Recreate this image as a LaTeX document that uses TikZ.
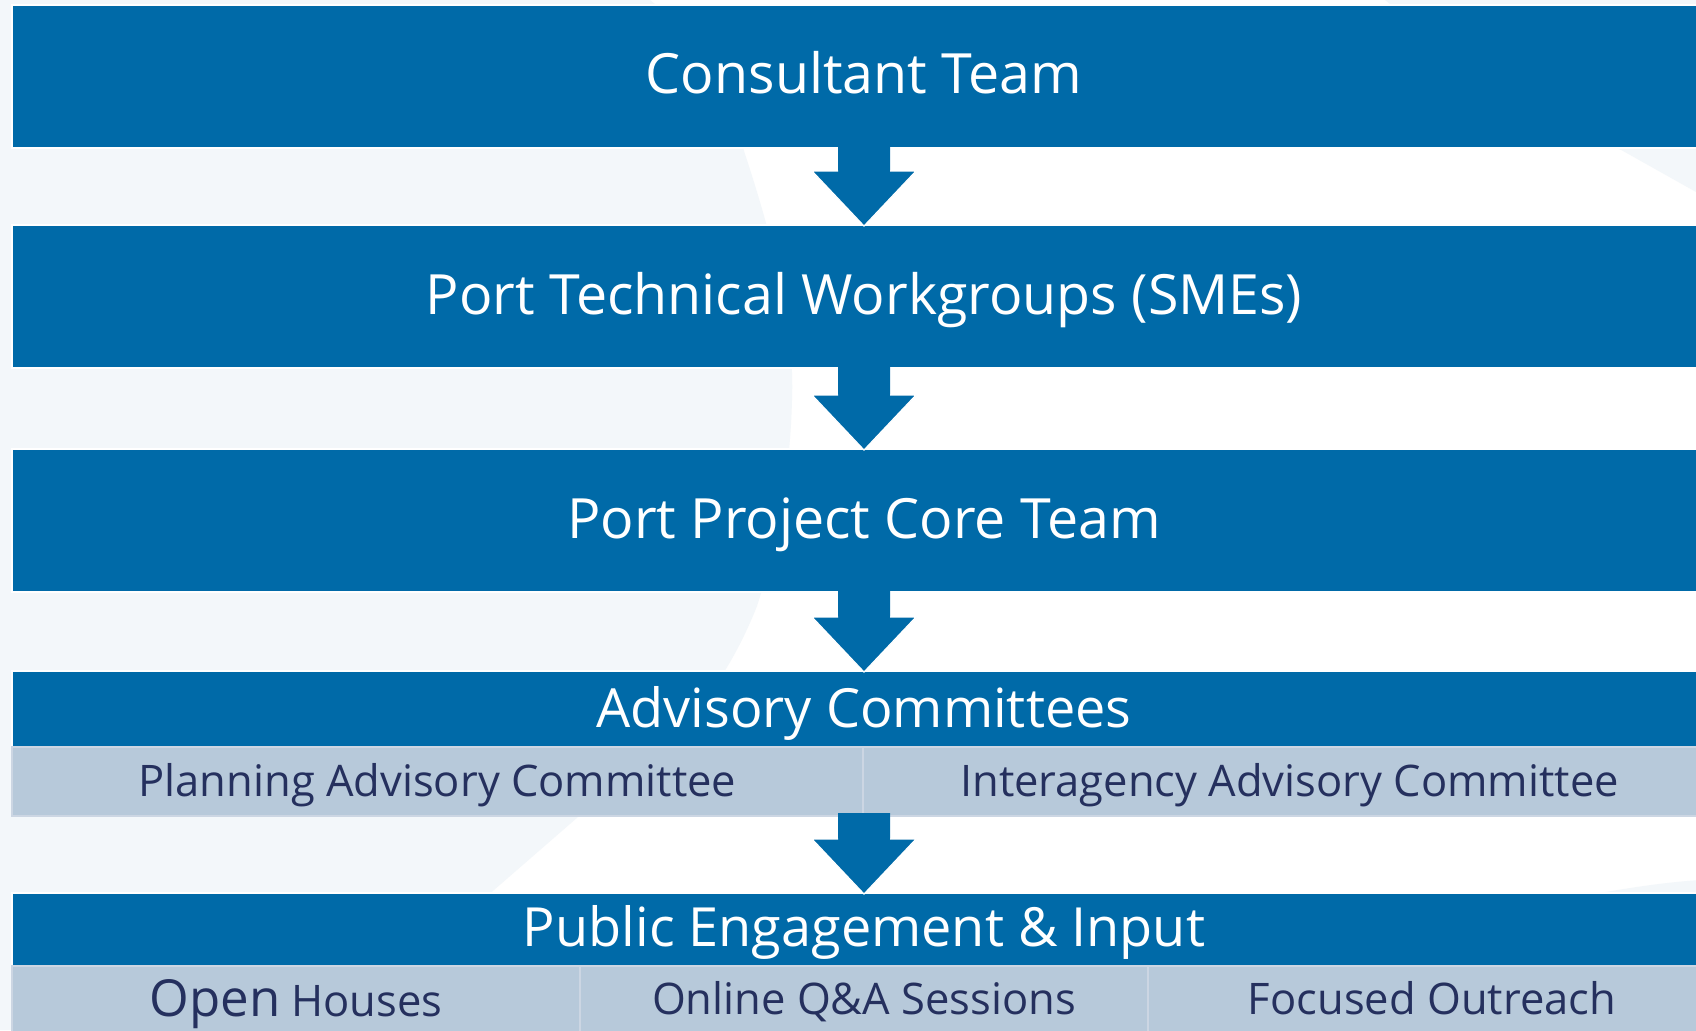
\documentclass[tikz,border=0pt]{standalone}
\usepackage{fontspec}
\setmainfont{Open Sans}
\usetikzlibrary{calc}
\definecolor{mainblue}{HTML}{006AA8}
\definecolor{lightbg}{HTML}{F3F7FA}
\definecolor{subfill}{HTML}{B7C9DA}
\definecolor{subedge}{HTML}{CCD6E3}
\definecolor{navy}{HTML}{25305E}
\tikzset{
  bluebox/.style={fill=mainblue, draw=white, line width=1.5pt, inner sep=0pt, outer sep=0pt},
  subcell/.style={fill=subfill, draw=subedge, line width=1.5pt, inner sep=0pt, outer sep=0pt},
  bigtext/.style={text=white, inner sep=0pt, anchor=base, font=\fontsize{55.5pt}{66pt}\selectfont},
  headtext/.style={text=white, inner sep=0pt, anchor=base, font=\fontsize{54pt}{64pt}\selectfont},
  subtext/.style={text=navy, inner sep=0pt, anchor=base, font=\fontsize{43.5pt}{52pt}\selectfont},
  lowtext/.style={text=navy, inner sep=0pt, anchor=base, font=\fontsize{43.5pt}{52pt}\selectfont},
  blk/.style={fill=mainblue},
  blkedge/.style={draw=white, line width=1.2pt, line join=miter},
}
\newcommand\blockarrow[2]{%
  \path[blk] let \p1=(#1.south), \p2=(#2.north) in
    (\x1-26pt,\y1+3pt) -- (\x1+26pt,\y1+3pt) -- (\x1+26pt,\y2+54pt) --
    (\x1+52pt,\y2+54pt) -- (\x1,\y2-1pt) -- (\x1-52pt,\y2+54pt) --
    (\x1-26pt,\y2+54pt) -- cycle;
  \path[blkedge] let \p1=(#1.south), \p2=(#2.north) in
    (\x1-26pt,\y2+54pt) -- (\x1-52pt,\y2+54pt) -- (\x1,\y2-1pt) --
    (\x1+52pt,\y2+54pt) -- (\x1+26pt,\y2+54pt);}
\begin{document}
\begin{tikzpicture}[x=1pt,y=-1pt]
\useasboundingbox (0,0) rectangle (1696,1030);
\clip (0,0) rectangle (1696,1030);
% background
\fill[white] (0,0) rectangle (1696,1030);
\fill[lightbg] (0,0) -- (650,0)
  .. controls (700,40) and (735,110) .. (744,151)
  .. controls (770,230) and (795,320) .. (792,400)
  .. controls (790,480) and (775,550) .. (757,606)
  .. controls (720,700) and (660,760) .. (578,817)
  -- (494,890) -- (330,1030) -- (0,1030) -- cycle;
\fill[lightbg] (1385,0) .. controls (1460,60) and (1560,120) .. (1623,151)
  -- (1696,192) -- (1696,0) -- cycle;
\fill[lightbg] (1600,893) .. controls (1640,886) and (1670,882) .. (1700,880) -- (1700,893) -- cycle;
% boxes
\node[bluebox, minimum width=1704pt, minimum height=143pt] (b1) at (864,76.5) {};
\node[bluebox, minimum width=1704pt, minimum height=143pt] (b2) at (864,296.5) {};
\node[bluebox, minimum width=1704pt, minimum height=143pt] (b3) at (864,520.5) {};
\node[bluebox, minimum width=1704pt, minimum height=76pt] (b4) at (864,709) {};
\node[subcell, minimum width=1704pt, minimum height=69pt] (s4) at (864,781.5) {};
\node[bluebox, minimum width=1704pt, minimum height=73pt] (b5) at (864,929.5) {};
\node[subcell, minimum width=1704pt, minimum height=74pt] (s5) at (864,1003) {};
% cells
\node[subcell, minimum width=851pt, minimum height=69pt] (s4a) at (437.5,781.5) {};
\node[subcell, minimum width=853pt, minimum height=69pt] (s4b) at (1289.5,781.5) {};
\node[subcell, minimum width=568pt, minimum height=74pt] (s5a) at (296,1003) {};
\node[subcell, minimum width=568pt, minimum height=74pt] (s5b) at (864,1003) {};
\node[subcell, minimum width=568pt, minimum height=74pt] (s5c) at (1432,1003) {};
% arrows
\blockarrow{b1}{b2}
\blockarrow{b2}{b3}
\blockarrow{b3}{b4}
\blockarrow{s4}{b5}
% texts
\node[bigtext] (t1) at (864,94) {Consultant Team};
\node[bigtext] (t2) at (864,314) {Port Technical Workgroups (SMEs)};
\node[bigtext] (t3) at (864,538) {Port Project Core Team};
\node[headtext] (t4) at (864,727) {Advisory Committees};
\node[headtext] (t5) at (864,946) {Public Engagement \& Input};
\node[subtext] (t4a) at (437.5,796) {Planning Advisory Committee};
\node[subtext] (t4b) at (1289.5,796) {Interagency Advisory Committee};
\node[lowtext] (t5a) at (296,1016) {{\fontsize{51pt}{60pt}\selectfont Open} Houses};
\node[lowtext] (t5b) at (864,1014) {Online Q\&A Sessions};
\node[lowtext] (t5c) at (1432,1014) {Focused Outreach};
\end{tikzpicture}
\end{document}
